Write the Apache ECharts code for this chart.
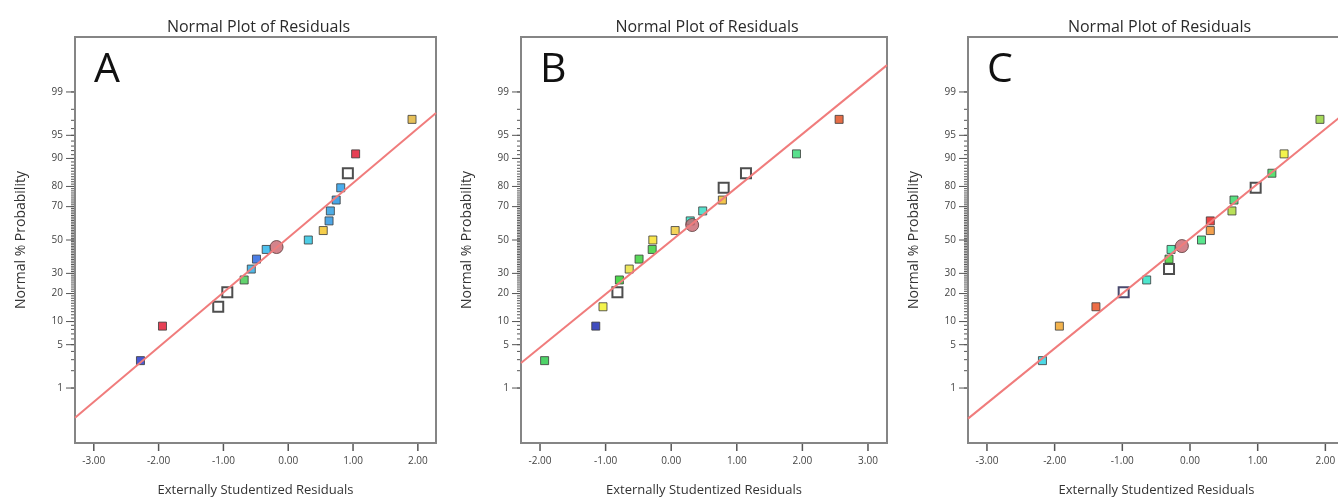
<!DOCTYPE html>
<html>
<head>
<meta charset="utf-8">
<script src="https://cdn.jsdelivr.net/npm/echarts@6/dist/echarts.min.js"></script>
<style>
  html, body { margin: 0; padding: 0; background: #fff; overflow: hidden; }
  #wrap { position: relative; width: 1338px; height: 502px; overflow: hidden; }
  .panel { position: absolute; top: 0; height: 502px; }
</style>
</head>
<body>
<div id="wrap">
  <div id="panelA" class="panel" style="left:0;width:446px"></div>
  <div id="panelB" class="panel" style="left:446px;width:446px"></div>
  <div id="panelC" class="panel" style="left:892px;width:470px"></div>
</div>
<script>
// percent positions shared by the 17 runs in every panel
var probs = [2.9, 8.8, 14.7, 20.6, 26.5, 32.4, 38.2, 44.1, 50, 55.9, 61.8, 67.6, 73.5, 79.4, 85.3, 91.2, 97.1];

// panel A
var residA = [-2.28, -1.94, -1.08, -0.94, -0.68, -0.57, -0.49, -0.34, 0.31, 0.54, 0.63, 0.65, 0.74, 0.81, 0.92, 1.04, 1.91];
var colorA = ["#1a2ec8", "#e0102a", "open", "open", "#3cc84a", "#26a6e0", "#1f5ee0", "#22b2ea", "#22c0e0", "#f2c21e", "#2290e0", "#2298e0", "#1a90e0", "#1e98e8", "open", "#e0102a", "#e0b030"];
var centerA = [-0.18, 45.6];
var fitA = [[-3.29, 0.26], [2.28, 97.7]];

// panel B
var residB = [-1.93, -1.15, -1.04, -0.82, -0.79, -0.64, -0.49, -0.29, -0.28, 0.06, 0.29, 0.48, 0.78, 0.8, 1.14, 1.91, 2.56];
var colorB = ["#22c842", "#1020b0", "#f0f020", "open", "#22d022", "#e8e032", "#30d030", "#30d030", "#f8e020", "#f0c830", "#22e0c0", "#30d8c0", "#f0b820", "open", "open", "#30d870", "#e04818"];
var centerB = [0.32, 59.3];
var fitB = [[-2.29, 2.66], [3.29, 99.7]];

// panel C
var residC = [-2.18, -1.93, -1.39, -0.98, -0.64, -0.31, -0.31, -0.28, 0.17, 0.3, 0.3, 0.62, 0.65, 0.97, 1.21, 1.39, 1.92];
var colorC = ["#20d0e0", "#f0a020", "#e84818", "openNavy", "#20e0c0", "open", "#40d030", "#30e8a0", "#30e070", "#f08820", "#e81818", "#a8d830", "#30d860", "open", "#30d850", "#f0f020", "#90d030"];
var centerC = [-0.12, 46.2];
var fitC = [[-3.28, 0.25], [2.29, 97.7]];

var yTickPct = [1, 5, 10, 20, 30, 50, 70, 80, 90, 95, 99];
var xTicks = [-3, -2, -1, 0, 1, 2, 3];

// inverse normal cdf (Acklam), used as the probability scale
function probit(p) {
  var a = [-39.69683028665376, 220.9460984245205, -275.9285104469687, 138.3577518672690, -30.66479806614716, 2.506628277459239];
  var b = [-54.47609879822406, 161.5858368580409, -155.6989798598866, 66.80131188771972, -13.28068155288572];
  var c = [-0.007784894002430293, -0.3223964580411365, -2.400758277161838, -2.549732539343734, 4.374664141464968, 2.938163982698783];
  var d = [0.007784695709041462, 0.3224671290700398, 2.445134137142996, 3.754408661907416];
  var q, r;
  if (p < 0.02425) {
    q = Math.sqrt(-2 * Math.log(p));
    return (((((c[0]*q+c[1])*q+c[2])*q+c[3])*q+c[4])*q+c[5]) / ((((d[0]*q+d[1])*q+d[2])*q+d[3])*q+1);
  }
  if (p > 1 - 0.02425) {
    q = Math.sqrt(-2 * Math.log(1 - p));
    return -(((((c[0]*q+c[1])*q+c[2])*q+c[3])*q+c[4])*q+c[5]) / ((((d[0]*q+d[1])*q+d[2])*q+d[3])*q+1);
  }
  q = p - 0.5;
  r = q * q;
  return (((((a[0]*r+a[1])*r+a[2])*r+a[3])*r+a[4])*r+a[5])*q / (((((b[0]*r+b[1])*r+b[2])*r+b[3])*r+b[4])*r+1);
}
function z(pct) { return probit(pct / 100); }

var majorZ = yTickPct.map(z);
var minorZ = [];
for (var i = 1; i <= 99; i++) minorZ.push(z(i));

var font = "Open Sans";
var yMin = -3.19, yMax = 3.19;

// one chart instance per panel, each with a single grid
function drawPanel(id, letter, resid, colors, center, fit, gridLeft, gridWidth, xMin, xMax) {
  var mid = gridLeft + gridWidth / 2;
  var xIn = xTicks.filter(function (v) { return v >= xMin && v <= xMax; });

  // tick marks drawn outside the frame, placed through the axes' scales
  var yTickData = majorZ.map(function (v) { return [xMin, v, 8]; })
    .concat(minorZ.map(function (v) { return [xMin, v, 3]; }));
  var xTickData = xIn.map(function (v) { return [v, yMin, 7]; });

  var option = {
    animation: false,
    title: [
      { text: "Normal Plot of Residuals", left: mid - 2, top: 14, textAlign: "center",
        textStyle: { fontSize: 16, fontWeight: "normal", color: "#2a2a2a", fontFamily: font } },
      { text: letter, left: gridLeft + 14, top: 45,
        textStyle: { fontSize: 41, fontWeight: "normal", color: "#111", fontFamily: font } }
    ],
    grid: { left: gridLeft, top: 37, width: gridWidth, height: 406,
      show: true, borderColor: "#858585", borderWidth: 2 },
    xAxis: {
      type: "value", min: xMin, max: xMax,
      name: "Externally Studentized Residuals", nameLocation: "middle", nameGap: 41,
      nameTextStyle: { fontSize: 13, color: "#333", fontFamily: font },
      axisLine: { show: false, onZero: false },
      splitLine: { show: false },
      axisTick: { show: false },
      axisLabel: { customValues: xIn, fontSize: 10, color: "#444", margin: 13, fontFamily: font,
        formatter: function (v) { return v.toFixed(2); } }
    },
    yAxis: {
      type: "value", min: yMin, max: yMax,
      name: "Normal % Probability", nameLocation: "middle", nameGap: 47,
      nameTextStyle: { fontSize: 14, color: "#333", fontFamily: font },
      axisLine: { show: false, onZero: false },
      splitLine: { show: false },
      axisTick: { show: false },
      axisLabel: { customValues: majorZ, fontSize: 10, color: "#444", margin: 12, fontFamily: font,
        formatter: function (v) {
          for (var j = 0; j < majorZ.length; j++) {
            if (Math.abs(majorZ[j] - v) < 1e-6) return String(yTickPct[j]);
          }
          return "";
        } }
    },
    series: [
      {
        type: "custom", clip: false, silent: true, z: 10,
        data: yTickData,
        renderItem: function (params, api) {
          var p = api.coord([api.value(0), api.value(1)]);
          var len = api.value(2);
          return { type: "line", shape: { x1: p[0] - 1 - len, y1: p[1], x2: p[0] - 1, y2: p[1] },
            style: { stroke: "#555", lineWidth: 1 } };
        }
      },
      {
        type: "custom", clip: false, silent: true, z: 10,
        data: xTickData,
        renderItem: function (params, api) {
          var p = api.coord([api.value(0), api.value(1)]);
          var len = api.value(2);
          return { type: "line", shape: { x1: p[0], y1: p[1] + 1, x2: p[0], y2: p[1] + 1 + len },
            style: { stroke: "#555", lineWidth: 1.5 } };
        }
      },
      {
        type: "line", symbol: "none", silent: true,
        lineStyle: { color: "#f07c7c", width: 2 },
        data: fit.map(function (d) { return [d[0], z(d[1])]; })
      },
      {
        type: "scatter", symbol: "rect",
        data: resid.map(function (x, j) {
          var c = colors[j];
          if (c === "open" || c === "openNavy") {
            return { value: [x, z(probs[j])], symbolSize: 10,
              itemStyle: { color: "#fff", borderColor: c === "open" ? "#222" : "#1c1c48", borderWidth: 2 } };
          }
          return { value: [x, z(probs[j])], symbolSize: 8,
            itemStyle: { color: c, borderColor: "#3a3a3a", borderWidth: 1 } };
        })
      },
      {
        type: "scatter", symbol: "circle", symbolSize: 13,
        itemStyle: { color: "#c8646e", borderColor: "#5a3a3a", borderWidth: 1 },
        data: [[center[0], z(center[1])]]
      }
    ]
  };
  var chart = echarts.init(document.getElementById(id));
  chart.setOption(option);
}

drawPanel("panelA", "A", residA, colorA, centerA, fitA, 75, 361, -3.29, 2.28);
drawPanel("panelB", "B", residB, colorB, centerB, fitB, 75, 366, -2.29, 3.29);
drawPanel("panelC", "C", residC, colorC, centerC, fitC, 76, 377, -3.28, 2.29);
</script>
</body>
</html>
